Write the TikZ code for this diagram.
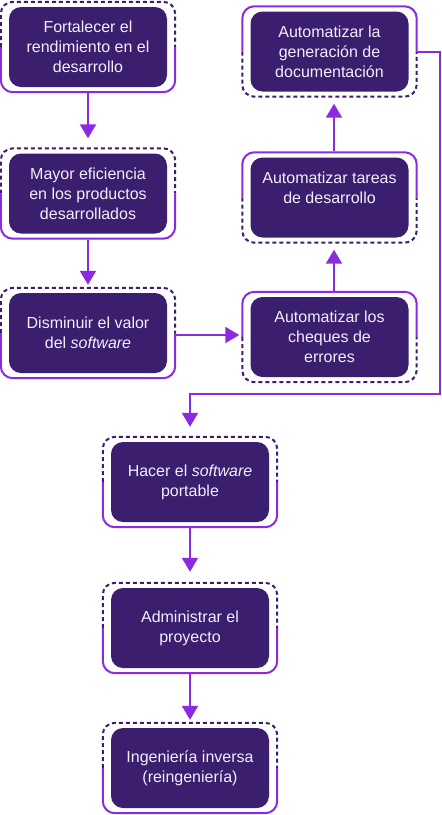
\documentclass[tikz,border=0pt]{standalone}
\usepackage{fontspec}
\setmainfont{Liberation Sans}
\usetikzlibrary{arrows.meta,calc}
\definecolor{boxfill}{HTML}{3B1E6E}
\definecolor{linepurple}{HTML}{8A2BE2}
\definecolor{dashdark}{HTML}{3B1E6E}
\definecolor{txt}{HTML}{F3EEFB}
\tikzset{
  inbox/.style={fill=boxfill, rounded corners=12pt, minimum width=158pt, minimum height=80pt,
    text=txt, align=center, font=\fontsize{16}{20}\selectfont, inner sep=0pt},
  solidhalf/.style={draw=linepurple, line width=2pt, rounded corners=12pt},
  dashhalf/.style={draw=dashdark, line width=2pt, dash pattern=on 4pt off 3pt, rounded corners=12pt},
  conn/.style={draw=linepurple, line width=2pt, -{Triangle[width=16pt,length=14pt]}},
}
\newcommand{\halfframe}[3]{%
  \path[#2] ($(#1.west)+(-8pt,0pt)$) -- ($(#1.north west)+(-8pt,5pt)$) -- ($(#1.north east)+(8pt,5pt)$) -- ($(#1.east)+(8pt,0pt)$);
  \path[#3] ($(#1.west)+(-8pt,0pt)$) -- ($(#1.south west)+(-8pt,-5pt)$) -- ($(#1.south east)+(8pt,-5pt)$) -- ($(#1.east)+(8pt,0pt)$);
}
\begin{document}
\begin{tikzpicture}[x=1pt,y=-1pt]
\useasboundingbox (0,0) rectangle (442,815);
% left column
\node[inbox] (n1) at (88,47) {Fortalecer el\\rendimiento en el\\desarrollo};
\node[inbox] (n2) at (88,193.5) {Mayor eficiencia\\en los productos\\desarrollados};
\node[inbox] (n3) at (88,333) {Disminuir el valor\\del \textit{software}};
% right column
\node[inbox] (r1) at (329.5,337) {Automatizar los\\cheques de\\errores};
\node[inbox] (r2) at (329.5,197.5) {Automatizar tareas\\de desarrollo\\\mbox{}};
\node[inbox] (r3) at (329.5,51.5) {Automatizar la\\generación de\\documentación};
% bottom column
\node[inbox] (b1) at (190,482) {Hacer el \textit{software}\\portable};
\node[inbox] (b2) at (190,628) {Administrar el\\proyecto};
\node[inbox] (b3) at (190,768) {Ingeniería inversa\\(reingeniería)};
% frames
\halfframe{n1}{dashhalf}{solidhalf}
\halfframe{n2}{dashhalf}{solidhalf}
\halfframe{n3}{dashhalf}{solidhalf}
\halfframe{r1}{solidhalf}{dashhalf}
\halfframe{r2}{solidhalf}{dashhalf}
\halfframe{r3}{solidhalf}{dashhalf}
\halfframe{b1}{dashhalf}{solidhalf}
\halfframe{b2}{dashhalf}{solidhalf}
\halfframe{b3}{dashhalf}{solidhalf}
% connectors
\draw[conn, shorten <=6pt, shorten >=15pt] (n1.south) -- (n2.north);
\draw[conn, shorten <=6pt, shorten >=8pt] (n2.south) -- (n3.north);
\draw[conn, shorten <=8pt, shorten >=11pt] ([yshift=-2pt]n3.east) -- ([yshift=-2pt]r1.west |- n3.east);
\draw[conn, shorten <=6pt, shorten >=12pt] ([xshift=4.5pt]r1.north) -- ([xshift=4.5pt]r2.south);
\draw[conn, shorten <=6pt, shorten >=12pt] ([xshift=4.5pt]r2.north) -- ([xshift=4.5pt]r3.south);
\draw[conn, shorten <=8pt, shorten >=15pt] (r3.east) -| (440,394) -| (b1.north);
\draw[conn, shorten <=6pt, shorten >=16pt] (b1.south) -- (b2.north);
\draw[conn, shorten <=6pt, shorten >=8pt] (b2.south) -- (b3.north);
\end{tikzpicture}
\end{document}
